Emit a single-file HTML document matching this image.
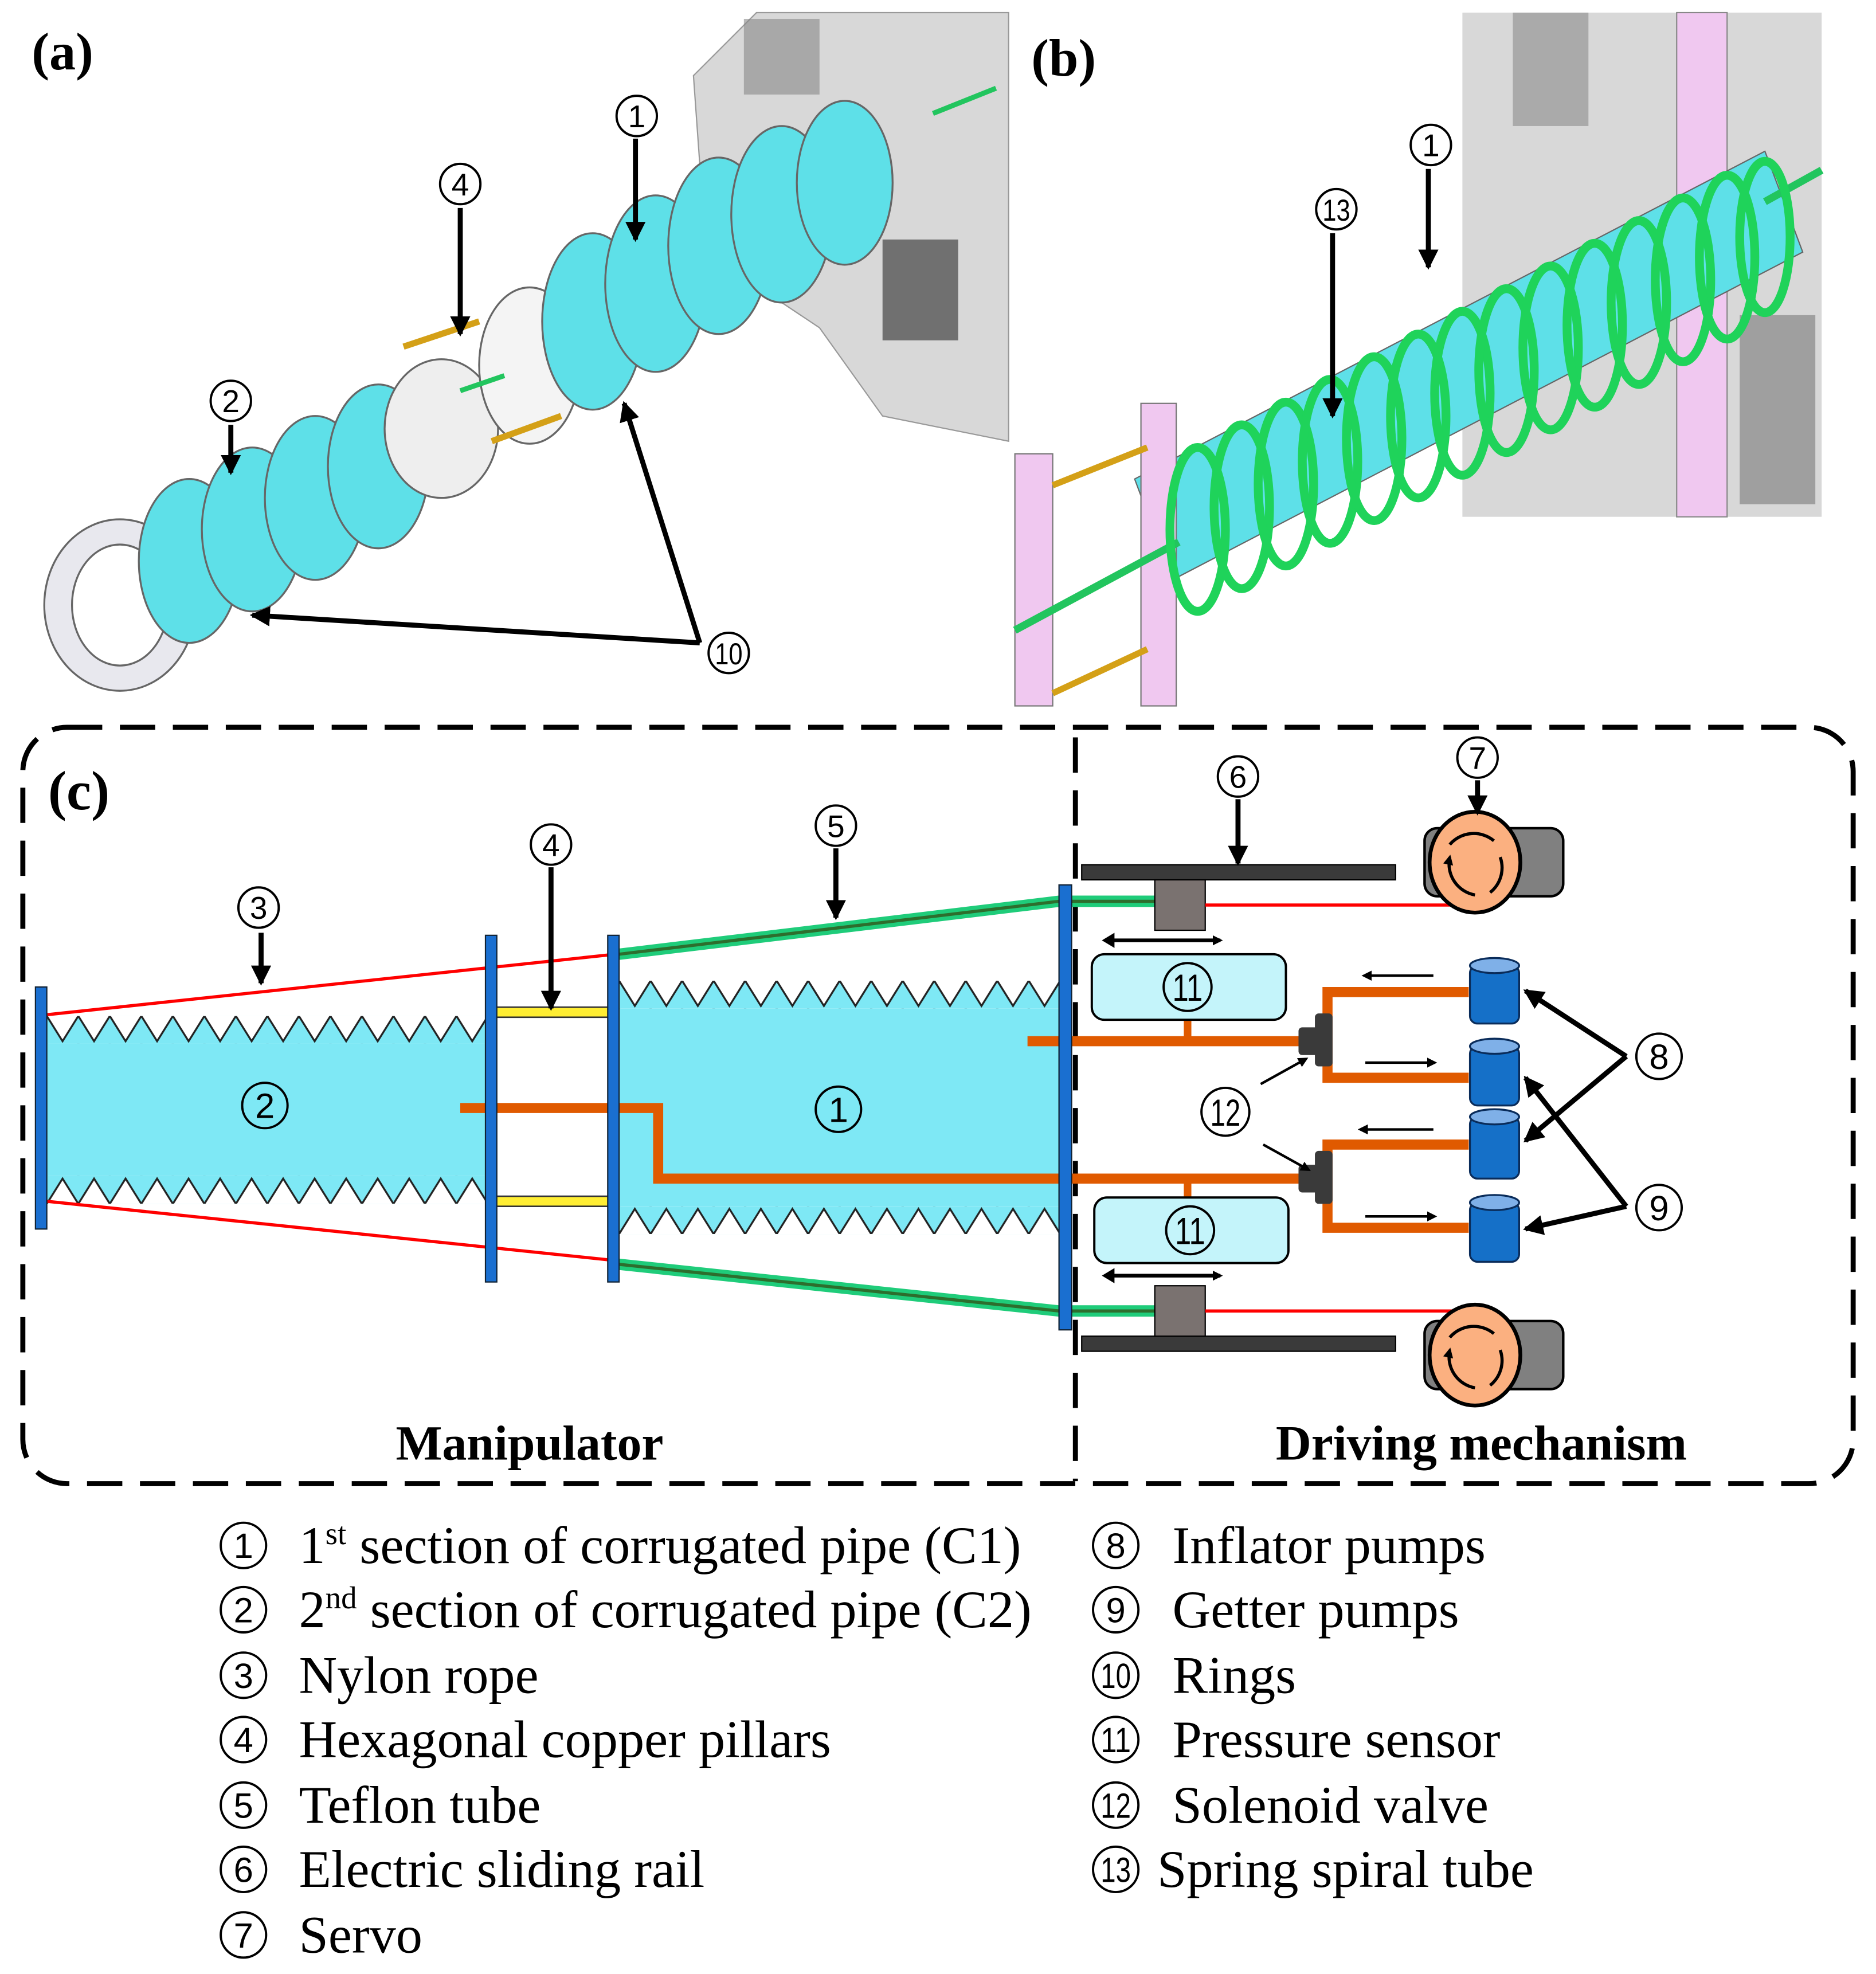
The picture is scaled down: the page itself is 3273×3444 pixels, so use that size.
<!DOCTYPE html>
<html><head><meta charset="utf-8"><style>
html,body{margin:0;padding:0;background:#fff}
svg{display:block}
text{font-family:"Liberation Serif","DejaVu Serif",serif}
.cn circle{fill:#fff;stroke:#000;stroke-width:1.8}
.cn text{font-family:"Liberation Sans",sans-serif;text-anchor:middle}
</style></head><body>
<svg width="3273" height="3444" viewBox="0 0 1488 1566" xmlns="http://www.w3.org/2000/svg">
<defs>
<pattern id="zt2" x="37" y="806" width="25" height="22" patternUnits="userSpaceOnUse">
<rect width="25" height="22" fill="#7ee8f5"/><polygon points="0,0 25,0 12.5,20" fill="#fff"/>
<polyline points="0,0 12.5,20 25,0" fill="none" stroke="#222" stroke-width="1.5"/></pattern>
<pattern id="zb2" x="37" y="933" width="25" height="22" patternUnits="userSpaceOnUse">
<rect width="25" height="22" fill="#7ee8f5"/><polygon points="0,22 25,22 12.5,2" fill="#fff"/>
<polyline points="0,22 12.5,2 25,22" fill="none" stroke="#222" stroke-width="1.5"/></pattern>
<pattern id="zt1" x="491" y="778" width="25" height="22" patternUnits="userSpaceOnUse">
<rect width="25" height="22" fill="#7ee8f5"/><polygon points="0,0 25,0 12.5,20" fill="#fff"/>
<polyline points="0,0 12.5,20 25,0" fill="none" stroke="#222" stroke-width="1.5"/></pattern>
<pattern id="zb1" x="491" y="957" width="25" height="22" patternUnits="userSpaceOnUse">
<rect width="25" height="22" fill="#7ee8f5"/><polygon points="0,22 25,22 12.5,2" fill="#fff"/>
<polyline points="0,22 12.5,2 25,22" fill="none" stroke="#222" stroke-width="1.5"/></pattern>
<marker id="ah" markerWidth="8" markerHeight="8" refX="6" refY="4" orient="auto" markerUnits="userSpaceOnUse" viewBox="0 0 8 8"><path d="M0,0 L8,4 L0,8 z" fill="#000"/></marker>
<marker id="ahb" markerWidth="16" markerHeight="16" refX="14" refY="8" orient="auto" markerUnits="userSpaceOnUse" viewBox="0 0 16 16"><path d="M0,0 L16,8 L0,16 z" fill="#000"/></marker>
</defs>

<g>
<polygon points="550,60 600,10 800,10 800,350 700,330 650,260 560,200" fill="#d8d8d8" stroke="#999"/>
<rect x="700" y="190" width="60" height="80" fill="#444" opacity="0.7"/>
<rect x="590" y="15" width="60" height="60" fill="#888" opacity="0.6"/>
<line x1="740" y1="90" x2="790" y2="70" stroke="#22c55e" stroke-width="4"/>
<g stroke="#666" stroke-width="1.5" fill="#5ee0e8">
<ellipse cx="95" cy="480" rx="60" ry="68" fill="#e8e8ee"/>
<ellipse cx="95" cy="480" rx="38" ry="48" fill="#fff"/>
<ellipse cx="150" cy="445" rx="40" ry="65"/>
<ellipse cx="200" cy="420" rx="40" ry="65"/>
<ellipse cx="250" cy="395" rx="40" ry="65"/>
<ellipse cx="300" cy="370" rx="40" ry="65"/>
<ellipse cx="350" cy="340" rx="45" ry="55" fill="#eee"/>
<ellipse cx="420" cy="290" rx="40" ry="62" fill="#f4f4f4"/>
<ellipse cx="470" cy="255" rx="40" ry="70"/>
<ellipse cx="520" cy="225" rx="40" ry="70"/>
<ellipse cx="570" cy="195" rx="40" ry="70"/>
<ellipse cx="620" cy="170" rx="40" ry="70"/>
<ellipse cx="670" cy="145" rx="38" ry="65"/>
</g>
<line x1="320" y1="275" x2="380" y2="255" stroke="#d4a017" stroke-width="5"/>
<line x1="390" y1="350" x2="445" y2="330" stroke="#d4a017" stroke-width="5"/>
<line x1="365" y1="310" x2="400" y2="298" stroke="#22c55e" stroke-width="4"/>
</g>
<text x="25" y="55" font-size="42" font-weight="bold">(a)</text>
<line x1="504" y1="110" x2="504" y2="190" stroke="#000" stroke-width="4" marker-end="url(#ahb)"/>
<line x1="365" y1="165" x2="365" y2="265" stroke="#000" stroke-width="4" marker-end="url(#ahb)"/>
<line x1="183" y1="337" x2="183" y2="375" stroke="#000" stroke-width="4" marker-end="url(#ahb)"/>
<line x1="555" y1="510" x2="200" y2="488" stroke="#000" stroke-width="4" marker-end="url(#ahb)"/>
<line x1="555" y1="510" x2="495" y2="320" stroke="#000" stroke-width="4" marker-end="url(#ahb)"/>

<g>
<rect x="1160" y="10" width="285" height="400" fill="#d8d8d8"/>
<rect x="1200" y="10" width="60" height="90" fill="#aaa"/>
<rect x="1330" y="10" width="40" height="400" fill="#f0c8f0" stroke="#888"/>
<rect x="1380" y="250" width="60" height="150" fill="#888" opacity="0.7"/>
<polygon points="900,380 1400,120 1430,200 930,460" fill="#5ee0e8" stroke="#666"/>
<rect x="905" y="320" width="28" height="240" fill="#f0c8f0" stroke="#777"/>
<rect x="805" y="360" width="30" height="200" fill="#f0c8f0" stroke="#777"/>
<line x1="805" y1="500" x2="935" y2="430" stroke="#22c55e" stroke-width="6"/>
<line x1="1400" y1="160" x2="1445" y2="135" stroke="#22c55e" stroke-width="6"/>
<line x1="835" y1="385" x2="910" y2="355" stroke="#d4a017" stroke-width="5"/>
<line x1="835" y1="550" x2="910" y2="515" stroke="#d4a017" stroke-width="5"/>
<g fill="none" stroke="#1fd35a" stroke-width="7">
<ellipse cx="950" cy="420" rx="22" ry="65"/><ellipse cx="985" cy="402" rx="22" ry="65"/>
<ellipse cx="1020" cy="384" rx="22" ry="65"/><ellipse cx="1055" cy="366" rx="22" ry="65"/>
<ellipse cx="1090" cy="348" rx="22" ry="65"/><ellipse cx="1125" cy="330" rx="22" ry="65"/>
<ellipse cx="1160" cy="312" rx="22" ry="65"/><ellipse cx="1195" cy="294" rx="22" ry="65"/>
<ellipse cx="1230" cy="276" rx="22" ry="65"/><ellipse cx="1265" cy="258" rx="22" ry="65"/>
<ellipse cx="1300" cy="240" rx="22" ry="65"/><ellipse cx="1335" cy="222" rx="22" ry="65"/>
<ellipse cx="1370" cy="204" rx="22" ry="65"/><ellipse cx="1400" cy="188" rx="20" ry="60"/>
</g>
</g>
<text x="818" y="60" font-size="42" font-weight="bold">(b)</text>
<line x1="1133" y1="134" x2="1133" y2="212" stroke="#000" stroke-width="4" marker-end="url(#ahb)"/>
<line x1="1057" y1="185" x2="1057" y2="330" stroke="#000" stroke-width="4" marker-end="url(#ahb)"/>

<rect x="18" y="577" width="1452" height="600" rx="35" fill="none" stroke="#000" stroke-width="4" stroke-dasharray="28,14"/>
<line x1="853" y1="585" x2="853" y2="1175" stroke="#000" stroke-width="4" stroke-dasharray="28,14"/>
<text x="38" y="642" font-size="44" font-weight="bold">(c)</text>

<rect x="37" y="828" width="348" height="105" fill="#7ee8f5"/>
<rect x="37" y="806" width="348" height="22" fill="url(#zt2)"/>
<rect x="37" y="933" width="348" height="22" fill="url(#zb2)"/>
<rect x="491" y="800" width="349" height="157" fill="#7ee8f5"/>
<rect x="491" y="778" width="349" height="22" fill="url(#zt1)"/>
<rect x="491" y="957" width="349" height="22" fill="url(#zb1)"/>

<line x1="37" y1="805" x2="488" y2="757" stroke="#f00" stroke-width="2.5"/>
<line x1="37" y1="953" x2="488" y2="1000" stroke="#f00" stroke-width="2.5"/>
<rect x="393" y="799" width="90" height="8" fill="#ffee33" stroke="#333" stroke-width="1.2"/>
<rect x="393" y="949" width="90" height="8" fill="#ffee33" stroke="#333" stroke-width="1.2"/>
<polyline points="491,757 840,715 918,715" fill="none" stroke="#1fcc7a" stroke-width="9"/>
<polyline points="491,757 840,715 918,715" fill="none" stroke="#2d6e2d" stroke-width="2.5"/>
<polyline points="491,1003 840,1040 918,1040" fill="none" stroke="#1fcc7a" stroke-width="9"/>
<polyline points="491,1003 840,1040 918,1040" fill="none" stroke="#2d6e2d" stroke-width="2.5"/>
<polyline points="365,879 522,879 522,935 1032,935" fill="none" stroke="#e05a00" stroke-width="8"/>
<line x1="815" y1="826" x2="1032" y2="826" stroke="#e05a00" stroke-width="8"/>
<line x1="942" y1="808" x2="942" y2="826" stroke="#e05a00" stroke-width="6"/>
<line x1="942" y1="935" x2="942" y2="950" stroke="#e05a00" stroke-width="6"/>
<polyline points="1165,787 1053,787 1053,855 1165,855" fill="none" stroke="#e05a00" stroke-width="8"/>
<polyline points="1165,908 1053,908 1053,974 1165,974" fill="none" stroke="#e05a00" stroke-width="8"/>
<rect x="28" y="783" width="9" height="192" fill="#1a6fd0" stroke="#123" stroke-width="1"/>
<rect x="385" y="742" width="9" height="275" fill="#1a6fd0" stroke="#123" stroke-width="1"/>
<rect x="482" y="742" width="9" height="275" fill="#1a6fd0" stroke="#123" stroke-width="1"/>
<rect x="840" y="702" width="10" height="353" fill="#1a6fd0" stroke="#123" stroke-width="1"/>

<rect x="858" y="686" width="249" height="12" fill="#3a3a3a" stroke="#000"/>
<rect x="858" y="1060" width="249" height="12" fill="#3a3a3a" stroke="#000"/>
<rect x="916" y="698" width="40" height="40" fill="#7a7270" stroke="#000"/>
<rect x="916" y="1020" width="40" height="40" fill="#7a7270" stroke="#000"/>
<line x1="956" y1="718" x2="1170" y2="718" stroke="#f00" stroke-width="2.5"/>
<line x1="956" y1="1040" x2="1170" y2="1040" stroke="#f00" stroke-width="2.5"/>
<line x1="880" y1="746" x2="968" y2="746" stroke="#000" stroke-width="3" marker-end="url(#ah)"/>
<line x1="880" y1="1012" x2="968" y2="1012" stroke="#000" stroke-width="3" marker-end="url(#ah)"/>
<path d="M874,746 l10,-6 v12z M874,1012 l10,-6 v12z" fill="#000"/>

<g>
<rect x="1130" y="657" width="110" height="54" rx="10" fill="#808080" stroke="#000" stroke-width="2"/>
<ellipse cx="1170" cy="684" rx="36" ry="40" fill="#fbb080" stroke="#000" stroke-width="3"/>
<path d="M1150,670 a25,25 0 0 1 35,-3 M1190,680 a25,25 0 0 1 -8,28 M1170,710 a25,25 0 0 1 -20,-30" fill="none" stroke="#000" stroke-width="2.5" marker-end="url(#ah)"/>
<rect x="1130" y="1048" width="110" height="54" rx="10" fill="#808080" stroke="#000" stroke-width="2"/>
<ellipse cx="1170" cy="1075" rx="36" ry="40" fill="#fbb080" stroke="#000" stroke-width="3"/>
<path d="M1150,1061 a25,25 0 0 1 35,-3 M1190,1071 a25,25 0 0 1 -8,28 M1170,1101 a25,25 0 0 1 -20,-30" fill="none" stroke="#000" stroke-width="2.5" marker-end="url(#ah)"/>
</g>

<rect x="866" y="757" width="154" height="52" rx="10" fill="#c4f4fa" stroke="#000" stroke-width="1.8"/>
<rect x="868" y="950" width="154" height="52" rx="10" fill="#c4f4fa" stroke="#000" stroke-width="1.8"/>

<g fill="#3a3a3a">
<rect x="1030" y="815" width="22" height="22" rx="3"/><rect x="1043" y="804" width="14" height="42" rx="3"/>
<rect x="1030" y="924" width="22" height="22" rx="3"/><rect x="1043" y="913" width="14" height="42" rx="3"/>
</g>

<g fill="#1570c8" stroke="#0a2c5a" stroke-width="1.5">
<rect x="1166" y="766" width="39" height="46" rx="6"/><ellipse cx="1185.5" cy="766" rx="19.5" ry="6" fill="#7fb0e8"/>
<rect x="1166" y="830" width="39" height="47" rx="6"/><ellipse cx="1185.5" cy="830" rx="19.5" ry="6" fill="#7fb0e8"/>
<rect x="1166" y="886" width="39" height="49" rx="6"/><ellipse cx="1185.5" cy="886" rx="19.5" ry="6" fill="#7fb0e8"/>
<rect x="1166" y="954" width="39" height="47" rx="6"/><ellipse cx="1185.5" cy="954" rx="19.5" ry="6" fill="#7fb0e8"/>
</g>
<g stroke="#000" stroke-width="2">
<line x1="1137" y1="774" x2="1082" y2="774" marker-end="url(#ah)"/>
<line x1="1083" y1="843" x2="1138" y2="843" marker-end="url(#ah)"/>
<line x1="1137" y1="896" x2="1079" y2="896" marker-end="url(#ah)"/>
<line x1="1083" y1="965" x2="1138" y2="965" marker-end="url(#ah)"/>
<line x1="1000" y1="860" x2="1036" y2="840" marker-end="url(#ah)"/>
<line x1="1002" y1="908" x2="1038" y2="928" marker-end="url(#ah)"/>
</g>
<g stroke="#000" stroke-width="4" fill="none">
<line x1="1290" y1="838" x2="1210" y2="786" marker-end="url(#ahb)"/>
<line x1="1290" y1="838" x2="1210" y2="905" marker-end="url(#ahb)"/>
<line x1="1290" y1="957" x2="1210" y2="855" marker-end="url(#ahb)"/>
<line x1="1290" y1="957" x2="1210" y2="975" marker-end="url(#ahb)"/>
</g>

<line x1="207" y1="740" x2="207" y2="780" stroke="#000" stroke-width="4" marker-end="url(#ahb)"/>
<line x1="437" y1="688" x2="437" y2="800" stroke="#000" stroke-width="4" marker-end="url(#ahb)"/>
<line x1="663" y1="673" x2="663" y2="728" stroke="#000" stroke-width="4" marker-end="url(#ahb)"/>
<line x1="982" y1="634" x2="982" y2="685" stroke="#000" stroke-width="4" marker-end="url(#ahb)"/>
<line x1="1172" y1="619" x2="1172" y2="645" stroke="#000" stroke-width="4" marker-end="url(#ahb)"/>
<text x="420" y="1158" font-size="39" font-weight="bold" text-anchor="middle">Manipulator</text>
<text x="1175" y="1158" font-size="39" font-weight="bold" text-anchor="middle">Driving mechanism</text>

<g class="cn">
<g><circle cx="505" cy="92" r="16"/><text x="505" y="101" font-size="25">1</text></g>
<g><circle cx="365" cy="146" r="16"/><text x="365" y="155" font-size="25">4</text></g>
<g><circle cx="183" cy="318" r="16"/><text x="183" y="327" font-size="25">2</text></g>
<g><circle cx="578" cy="518" r="16"/><text x="578" y="527" font-size="24" textLength="22" lengthAdjust="spacingAndGlyphs">10</text></g>
<g><circle cx="1135" cy="115" r="16"/><text x="1135" y="124" font-size="25">1</text></g>
<g><circle cx="1060" cy="166" r="16"/><text x="1060" y="175" font-size="24" textLength="22" lengthAdjust="spacingAndGlyphs">13</text></g>
<g><circle cx="205" cy="720" r="16"/><text x="205" y="729" font-size="25">3</text></g>
<g><circle cx="437" cy="670" r="16"/><text x="437" y="679" font-size="25">4</text></g>
<g><circle cx="663" cy="655" r="16"/><text x="663" y="664" font-size="25">5</text></g>
<g><circle cx="982" cy="616" r="16"/><text x="982" y="625" font-size="25">6</text></g>
<g><circle cx="1172" cy="601" r="16"/><text x="1172" y="610" font-size="25">7</text></g>
<g><circle cx="210" cy="877" r="18" style="fill:none"/><text x="210" y="887" font-size="28">2</text></g>
<g><circle cx="665" cy="880" r="18" style="fill:none"/><text x="665" y="890" font-size="28">1</text></g>
<g><circle cx="942" cy="783" r="19" style="fill:none"/><text x="942" y="794" font-size="30" textLength="24" lengthAdjust="spacingAndGlyphs">11</text></g>
<g><circle cx="944" cy="976" r="19" style="fill:none"/><text x="944" y="987" font-size="30" textLength="24" lengthAdjust="spacingAndGlyphs">11</text></g>
<g><circle cx="972" cy="882" r="19"/><text x="972" y="893" font-size="30" textLength="24" lengthAdjust="spacingAndGlyphs">12</text></g>
<g><circle cx="1316" cy="838" r="18"/><text x="1316" y="848" font-size="28">8</text></g>
<g><circle cx="1316" cy="958" r="18"/><text x="1316" y="968" font-size="28">9</text></g>
<g><circle cx="193" cy="1226" r="18"/><text x="193" y="1236" font-size="28">1</text></g>
<g><circle cx="193" cy="1277" r="18"/><text x="193" y="1287" font-size="28">2</text></g>
<g><circle cx="193" cy="1329" r="18"/><text x="193" y="1339" font-size="28">3</text></g>
<g><circle cx="193" cy="1380" r="18"/><text x="193" y="1390" font-size="28">4</text></g>
<g><circle cx="193" cy="1432" r="18"/><text x="193" y="1442" font-size="28">5</text></g>
<g><circle cx="193" cy="1483" r="18"/><text x="193" y="1493" font-size="28">6</text></g>
<g><circle cx="193" cy="1535" r="18"/><text x="193" y="1545" font-size="28">7</text></g>
<g><circle cx="885" cy="1226" r="18"/><text x="885" y="1236" font-size="28">8</text></g>
<g><circle cx="885" cy="1277" r="18"/><text x="885" y="1287" font-size="28">9</text></g>
<g><circle cx="885" cy="1329" r="18"/><text x="885" y="1339" font-size="28" textLength="24" lengthAdjust="spacingAndGlyphs">10</text></g>
<g><circle cx="885" cy="1380" r="18"/><text x="885" y="1390" font-size="28" textLength="24" lengthAdjust="spacingAndGlyphs">11</text></g>
<g><circle cx="885" cy="1432" r="18"/><text x="885" y="1442" font-size="28" textLength="24" lengthAdjust="spacingAndGlyphs">12</text></g>
<g><circle cx="885" cy="1483" r="18"/><text x="885" y="1493" font-size="28" textLength="24" lengthAdjust="spacingAndGlyphs">13</text></g>
</g>

<g font-size="42">
<text x="237" y="1240">1<tspan font-size="25" dy="-15">st</tspan><tspan dy="15"> section of corrugated pipe (C1)</tspan></text>
<text x="237" y="1291">2<tspan font-size="25" dy="-15">nd</tspan><tspan dy="15"> section of corrugated pipe (C2)</tspan></text>
<text x="237" y="1343">Nylon rope</text>
<text x="237" y="1394">Hexagonal copper pillars</text>
<text x="237" y="1446">Teflon tube</text>
<text x="237" y="1497">Electric sliding rail</text>
<text x="237" y="1549">Servo</text>
<text x="930" y="1240">Inflator pumps</text>
<text x="930" y="1291">Getter pumps</text>
<text x="930" y="1343">Rings</text>
<text x="930" y="1394">Pressure sensor</text>
<text x="930" y="1446">Solenoid valve</text>
<text x="918" y="1497">Spring spiral tube</text>
</g>
</svg>
</body></html>
